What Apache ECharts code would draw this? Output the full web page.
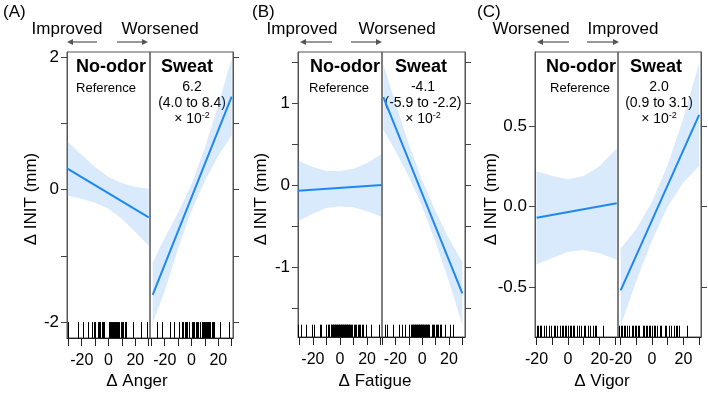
<!DOCTYPE html>
<html>
<head>
<meta charset="utf-8">
<script src="https://cdn.jsdelivr.net/npm/echarts@6/dist/echarts.min.js"></script>
<style>
  html, body { margin: 0; padding: 0; background: #fff; }
  #chart { width: 708px; height: 394px; }
</style>
</head>
<body>
<div id="chart"></div>
<script>
// ---- (A) Δ Anger ----
const bandX_A_no = [-31, -20, -10, 0, 10, 20, 30];
const bandLo_A_no = [-0.09, -0.14, -0.20, -0.29, -0.44, -0.64, -0.85];
const bandHi_A_no = [0.73, 0.52, 0.34, 0.19, 0.10, 0.04, 0.01];
const fit_A_no = [[-31, 0.32], [30, -0.42]];

const bandX_A_sw = [-29, -20, -10, 0, 10, 20, 30];
const bandLo_A_sw = [-2.02, -1.53, -0.89, -0.32, 0.13, 0.51, 0.82];
const bandHi_A_sw = [-1.10, -0.73, -0.35, 0.08, 0.63, 1.27, 1.98];
const fit_A_sw = [[-29, -1.59], [30, 1.40]];

const rug_A_no = [-30, -23, -19, -15, -12, -11, -10, -8, -7, -6, -5, -4, -3, 0, 0.5, 1, 1.5, 2, 2.5, 3, 3.5, 4, 4.5, 5, 5.5, 6, 6.5, 7, 8, 9, 10, 11, 12, 13, 18, 24, 29];
const rug_A_sw = [-26, -22, -16, -13, -9, -7, -6, -5, -4, -3, -2, 0, 1, 2, 3, 4, 5, 6, 8, 8.5, 9, 9.5, 10, 10.5, 11, 11.5, 12, 12.5, 13, 14, 15, 16, 17, 21, 28];

// ---- (B) Δ Fatigue ----
const bandX_B_no = [-31, -20, -10, 0, 10, 20, 31];
const bandLo_B_no = [-0.44, -0.35, -0.28, -0.26, -0.27, -0.32, -0.39];
const bandHi_B_no = [0.30, 0.22, 0.17, 0.17, 0.20, 0.27, 0.38];
const fit_B_no = [[-31, -0.07], [31, 0.0]];

const bandX_B_sw = [-29, -20, -10, 0, 10, 20, 30];
const bandLo_B_sw = [0.67, 0.42, 0.10, -0.26, -0.70, -1.17, -1.70];
const bandHi_B_sw = [1.47, 1.00, 0.50, 0.06, -0.32, -0.65, -0.94];
const fit_B_sw = [[-29, 1.07], [30, -1.32]];

const rug_B_no = [-31, -29, -25, -21, -19, -15, -14, -10, -9, -8, -7, -6.5, -6, -5.5, -5, -4.5, -4, -3.5, -3, -2.5, -2, -1.5, -1, -0.5, 0, 0.5, 1, 1.5, 2, 2.5, 3, 3.5, 4, 4.5, 5, 5.5, 6, 6.5, 7, 7.5, 8, 9, 10, 11, 12, 13, 14, 15, 16, 17, 19, 23, 29];
const rug_B_sw = [-28, -26, -22, -17, -15, -12.5, -10, -8, -7.5, -7, -6.5, -6, -5.5, -5, -4.5, -4, -3.5, -3, -2.5, -2, -1.5, -1, -0.5, 0, 0.5, 1, 1.5, 2, 2.5, 3, 3.5, 4, 4.5, 5, 7, 8, 9, 10, 11, 12, 13, 14, 17, 21, 23];

// ---- (C) Δ Vigor ----
const bandX_C_no = [-20, -10, 0, 10, 20, 31];
const bandLo_C_no = [-0.36, -0.32, -0.28, -0.27, -0.29, -0.33];
const bandHi_C_no = [0.22, 0.19, 0.17, 0.19, 0.25, 0.36];
const fit_C_no = [[-20, -0.07], [31, 0.02]];

const bandX_C_sw = [-20, -10, 0, 10, 20, 30];
const bandLo_C_sw = [-0.74, -0.46, -0.21, 0.0, 0.15, 0.25];
const bandHi_C_sw = [-0.26, -0.14, 0.03, 0.26, 0.55, 0.89];
const fit_C_sw = [[-20, -0.52], [30, 0.57]];

const rug_C_no = [-20, -19, -18, -17, -15, -14, -12, -11, -9, -8, -7, -5, -4, -3, -2, -1, 0, 1, 2, 3, 4, 6, 7, 8, 10, 11, 13, 14, 16, 17, 18, 22];
const rug_C_sw = [-21, -20, -19, -18, -17, -16, -15, -13, -12, -11, -10, -9, -8, -6, -5, -4, -3, -2, -1, 0, 1, 2, 3, 5, 6, 8, 9, 11, 12, 14, 15, 16, 17, 22];

// axis ticks / labels
const xTicks = [-30, -20, -10, 0, 10, 20, 30];
const xLabels = [-20, 0, 20];
const yTicks_A = [-2, -1, 0, 1, 2];
const yLabels_A = [-2, 0, 2];
const yTicks_B = [-1.5, -1, -0.5, 0, 0.5, 1, 1.5];
const yLabels_B = [-1, 0, 1];
const yTicks_C = [-0.5, 0, 0.5];
const yLabels_C = [-0.5, 0, 0.5];

const FONT = "'Liberation Sans', Arial, Helvetica, sans-serif";
const LINE_COLOR = '#1f88f0';
const BAND_COLOR = 'rgba(64, 150, 240, 0.2)';

const chart = echarts.init(document.getElementById('chart'));

// grid boxes: [left, divider, right, top, bottom]
const boxes = [
    [67, 150, 233, 52, 338],
    [298, 382, 465, 52, 337],
    [535, 618, 701, 52, 337]
];
const yRanges = [[-2.24, 2.075], [-1.85, 1.62], [-0.81, 0.96]];
const yTickSets = [yTicks_A, yTicks_B, yTicks_C];
const yLabelSets = [yLabels_A, yLabels_B, yLabels_C];
const xRanges = [[-31, 31], [-31, 31], [-31, 31], [-30, 32], [-21, 31.8], [-21.7, 31.2]];
const rugTops = [-2.0, -1.70, -0.74];

const grids = [], xAxes = [], yAxes = [];
boxes.forEach((b, p) => {
    [0, 1].forEach(side => {
        const left = side === 0 ? b[0] : b[1];
        const w = side === 0 ? b[1] - b[0] : b[2] - b[1];
        grids.push({
            left: left, top: b[3], width: w, height: b[4] - b[3],
            show: true, borderColor: '#555', borderWidth: 1,
            backgroundColor: 'transparent', outerBoundsMode: 'none'
        });
        const gi = p * 2 + side;
        xAxes.push({
            type: 'value', gridIndex: gi,
            min: xRanges[gi][0], max: xRanges[gi][1],
            axisLine: { show: true, onZero: false, lineStyle: { color: '#222', width: 1 } },
            axisTick: { show: true, length: 8, customValues: xTicks, lineStyle: { color: '#222' } },
            axisLabel: { customValues: xLabels, fontSize: 16, color: '#000', margin: 15, fontFamily: FONT },
            splitLine: { show: false }
        });
        yAxes.push({
            type: 'value', gridIndex: gi,
            position: side === 0 ? 'left' : 'right',
            min: yRanges[p][0], max: yRanges[p][1],
            axisLine: { show: true, onZero: false, lineStyle: { color: '#555', width: 1 } },
            axisTick: { show: true, length: 6, customValues: yTickSets[p], lineStyle: { color: '#444' } },
            axisLabel: {
                show: side === 0, customValues: yLabelSets[p], fontSize: 17, color: '#000',
                margin: 8, fontFamily: FONT,
                formatter: p === 2 ? (v => Number(v).toFixed(1)) : (v => String(v))
            },
            splitLine: { show: false }
        });
    });
});

function band(gi, xs, lo, hi) {
    return {
        type: 'custom', xAxisIndex: gi, yAxisIndex: gi, silent: true, z: 1,
        data: xs.map((x, i) => [x, lo[i], hi[i]]),
        renderItem: function (params, api) {
            if (params.dataIndex !== 0) return;
            const pts = [];
            xs.forEach((x, i) => pts.push(api.coord([x, hi[i]])));
            for (let i = xs.length - 1; i >= 0; i--) pts.push(api.coord([xs[i], lo[i]]));
            return { type: 'polygon', shape: { points: pts }, style: { fill: BAND_COLOR } };
        }
    };
}

function fit(gi, pts) {
    return {
        type: 'line', xAxisIndex: gi, yAxisIndex: gi, data: pts, z: 3,
        showSymbol: false, silent: true,
        lineStyle: { color: LINE_COLOR, width: 2 }
    };
}

function rug(gi, vals, top, bottom) {
    return {
        type: 'custom', xAxisIndex: gi, yAxisIndex: gi, silent: true, z: 4,
        data: vals.map(v => [v]),
        renderItem: function (params, api) {
            const v = api.value(0);
            const p1 = api.coord([v, top]);
            const p2 = api.coord([v, bottom]);
            const x = Math.round(p1[0]) + 0.5;
            return { type: 'line', shape: { x1: x, y1: p1[1], x2: x, y2: p2[1] },
                     style: { stroke: '#000', lineWidth: 1 } };
        }
    };
}

const series = [
    band(0, bandX_A_no, bandLo_A_no, bandHi_A_no), fit(0, fit_A_no), rug(0, rug_A_no, rugTops[0], yRanges[0][0]),
    band(1, bandX_A_sw, bandLo_A_sw, bandHi_A_sw), fit(1, fit_A_sw), rug(1, rug_A_sw, rugTops[0], yRanges[0][0]),
    band(2, bandX_B_no, bandLo_B_no, bandHi_B_no), fit(2, fit_B_no), rug(2, rug_B_no, rugTops[1], yRanges[1][0]),
    band(3, bandX_B_sw, bandLo_B_sw, bandHi_B_sw), fit(3, fit_B_sw), rug(3, rug_B_sw, rugTops[1], yRanges[1][0]),
    band(4, bandX_C_no, bandLo_C_no, bandHi_C_no), fit(4, fit_C_no), rug(4, rug_C_no, rugTops[2], yRanges[2][0]),
    band(5, bandX_C_sw, bandLo_C_sw, bandHi_C_sw), fit(5, fit_C_sw), rug(5, rug_C_sw, rugTops[2], yRanges[2][0])
];

// ---- text and arrows ----
function txt(x, y, text, size, opts) {
    return Object.assign({
        type: 'text', x: x, y: y, silent: true,
        style: Object.assign({
            text: text, fill: '#000', align: 'center', verticalAlign: 'middle',
            font: size + 'px ' + FONT
        }, (opts && opts.style) || {})
    }, (opts && opts.el) || {});
}
function arrow(x1, x2, y) {
    const dir = x2 > x1 ? 1 : -1;
    return [
        { type: 'line', silent: true, shape: { x1: x1, y1: y, x2: x2 - dir * 4, y2: y }, style: { stroke: '#555', lineWidth: 1.2 } },
        { type: 'polygon', silent: true, shape: { points: [[x2, y], [x2 - dir * 6, y - 3], [x2 - dir * 6, y + 3]] }, style: { fill: '#555' } }
    ];
}
function estimate(cx, a, b) {
    return [
        txt(cx, 87, a, 14),
        txt(cx, 103, b, 14),
        txt(cx, 119, '{n|× 10}{s|-2}', 14, { style: { rich: {
            n: { fontSize: 14, lineHeight: 15, fontFamily: FONT, fill: '#000' },
            s: { fontSize: 9, lineHeight: 9, verticalAlign: 'top', fontFamily: FONT, fill: '#000' }
        } } })
    ];
}

const graphic = [].concat(
    txt(3, 12, '(A)', 17, { style: { align: 'left' } }),
    txt(252, 12, '(B)', 17, { style: { align: 'left' } }),
    txt(477, 12, '(C)', 17, { style: { align: 'left' } }),

    txt(67, 29, 'Improved', 17), txt(160, 29, 'Worsened', 17),
    arrow(97, 67, 42), arrow(117, 148, 42),
    txt(302, 29, 'Improved', 17), txt(397, 29, 'Worsened', 17),
    arrow(332, 300, 42), arrow(351, 382, 42),
    txt(531, 29, 'Worsened', 17), txt(623, 29, 'Improved', 17),
    arrow(569, 537, 42), arrow(587, 619, 42),

    txt(111, 67, 'No-odor', 18, { style: { font: 'bold 18px ' + FONT } }),
    txt(187, 67, 'Sweat', 18, { style: { font: 'bold 18px ' + FONT } }),
    txt(106, 88, 'Reference', 13),
    estimate(192, '6.2', '(4.0 to 8.4)'),

    txt(345, 67, 'No-odor', 18, { style: { font: 'bold 18px ' + FONT } }),
    txt(421, 67, 'Sweat', 18, { style: { font: 'bold 18px ' + FONT } }),
    txt(339, 88, 'Reference', 13),
    estimate(423, '-4.1', '(-5.9 to -2.2)'),

    txt(581, 67, 'No-odor', 18, { style: { font: 'bold 18px ' + FONT } }),
    txt(656, 67, 'Sweat', 18, { style: { font: 'bold 18px ' + FONT } }),
    txt(580, 88, 'Reference', 13),
    estimate(659, '2.0', '(0.9 to 3.1)'),

    txt(31, 199, 'Δ INIT (mm)', 17, { el: { rotation: Math.PI / 2 } }),
    txt(261, 199, 'Δ INIT (mm)', 17, { el: { rotation: Math.PI / 2 } }),
    txt(491, 199, 'Δ INIT (mm)', 17, { el: { rotation: Math.PI / 2 } }),

    txt(137, 381, 'Δ Anger', 17),
    txt(375, 381, 'Δ Fatigue', 17),
    txt(602, 381, 'Δ Vigor', 17)
);

chart.setOption({
    animation: false,
    backgroundColor: '#fff',
    grid: grids,
    xAxis: xAxes,
    yAxis: yAxes,
    series: series,
    graphic: graphic
});
</script>
</body>
</html>
